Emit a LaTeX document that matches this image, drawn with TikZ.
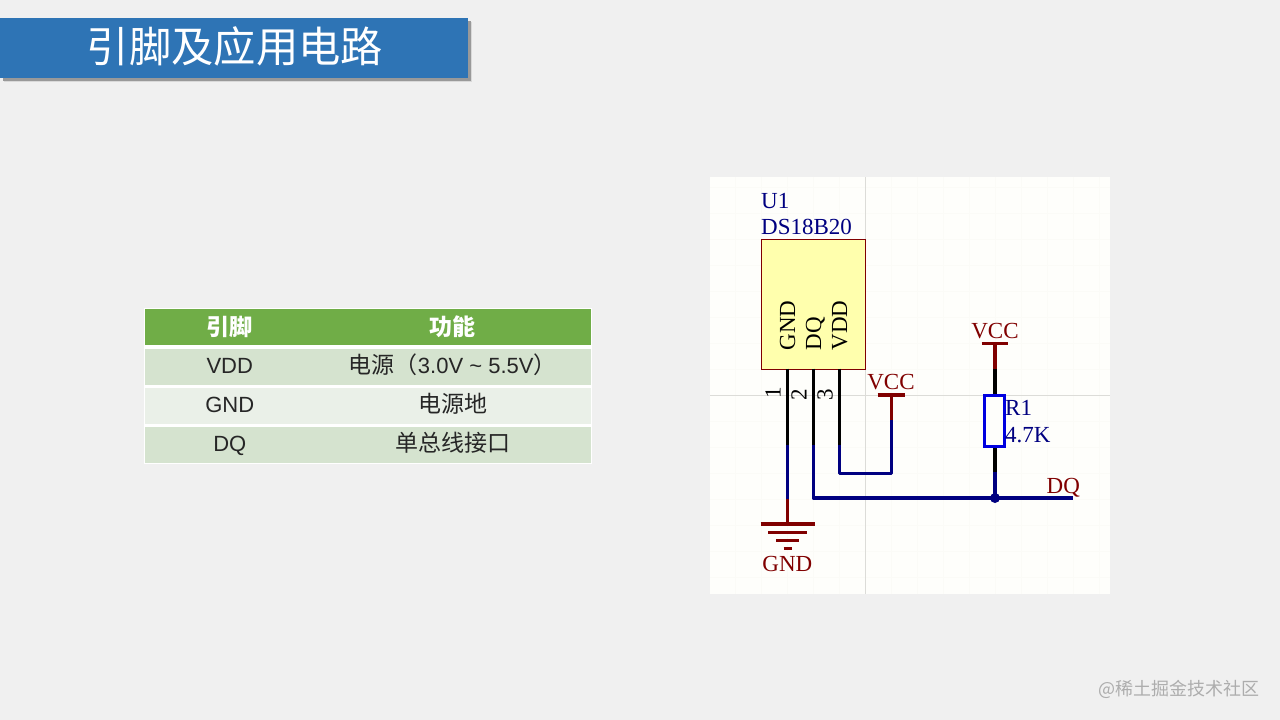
\documentclass[tikz,border=0pt]{standalone}
\usepackage{fontspec}
\setmainfont{Liberation Serif}
\newfontfamily\cjk{Noto Sans CJK SC}
\newfontfamily\lat{Liberation Sans}
\definecolor{bg}{HTML}{F0F0F0}
\definecolor{sheet}{HTML}{FEFEFB}
\definecolor{gridc}{HTML}{FBFBF7}
\definecolor{cross}{HTML}{DCDCD8}
\definecolor{titleblue}{HTML}{2E74B5}
\definecolor{headgreen}{HTML}{70AD47}
\definecolor{rowa}{HTML}{D5E3CF}
\definecolor{rowb}{HTML}{EAF0E8}
\definecolor{navyw}{HTML}{000080}
\definecolor{redw}{HTML}{800000}
\definecolor{bodyy}{HTML}{FFFFAD}
\definecolor{resblue}{HTML}{0000E0}
\definecolor{wm}{HTML}{ADADAD}
\tikzset{
  x=1pt,y=-1pt,
  sch/.style={inner sep=0pt,font=\fontsize{23}{23}\selectfont},
  navytxt/.style={sch,text=navyw,anchor=base west},
  redtxt/.style={sch,text=redw,anchor=base},
  pintxt/.style={sch,text=black,rotate=90},
  pinw/.style={draw=black,line width=3.4pt},
  netw/.style={draw=navyw,line width=3.4pt,line join=round},
  pwrw/.style={draw=redw,line width=3.4pt},
  cell/.style={inner sep=0pt,minimum height=36pt,text=black!85,text height=16pt,text depth=3pt,font=\lat\fontsize{22}{22}\selectfont},
  cola/.style={cell,minimum width=169.5pt},
  colb/.style={cell,minimum width=275.5pt},
  head/.style={fill=headgreen,text=white,text height=20pt,text depth=3pt,font=\cjk\bfseries\fontsize{23}{23}\selectfont},
  cjkcell/.style={font=\cjk\fontsize{23}{23}\selectfont},
}
\begin{document}
\begin{tikzpicture}
\useasboundingbox (0,0) rectangle (1280,720);
\fill[bg] (0,0) rectangle (1280,720);
% title banner
\fill[black!15] (4,22) rectangle (472,82);
\fill[black!40] (3,21) rectangle (470.5,80.5);
\node[fill=titleblue,inner sep=0pt,minimum width=468pt,minimum height=60pt,anchor=north west] (title) at (0,18) {};
\node[text=white,font=\cjk\fontsize{42.3}{42.3}\selectfont,inner sep=0pt] (titletext) at (235,46) {引脚及应用电路};
% table
\fill[white] (143.5,308) rectangle (591.5,464);
\node[cola,head] (h1) at (229.75,327) {引脚};
\node[colb,head] (h2) at (452.75,327) {功能};
\node[cola,fill=rowa] (a1) at (229.75,367) {VDD};
\node[colb,fill=rowa] (b1) at (452.75,367) {{\cjk\fontsize{23}{23}\selectfont 电源（}3.0V \textasciitilde{} 5.5V{\cjk\fontsize{23}{23}\selectfont ）}\hspace{5.5pt}};
\node[cola,fill=rowb] (a2) at (229.75,405.5) {GND};
\node[colb,fill=rowb,cjkcell] (b2) at (452.75,405.5) {电源地};
\node[cola,fill=rowa] (a3) at (229.75,444.5) {DQ};
\node[colb,fill=rowa,cjkcell] (b3) at (452.75,444.5) {单总线接口};
% schematic sheet
\fill[sheet] (710,177) rectangle (1110,594);
\begin{scope}
\clip (710,177) rectangle (1110,594);
\foreach \k in {-3,-2,...,12} \draw[gridc,line width=1pt] ({787.5+26*\k},177) -- ({787.5+26*\k},594);
\foreach \k in {-8,-7,...,7} \draw[gridc,line width=1pt] (710,{395+26*\k}) -- (1110,{395+26*\k});
\end{scope}
\draw[cross,line width=1pt] (865.5,177) -- (865.5,594);
\draw[cross,line width=1pt] (710,395) -- (1110,395);
% part body
\node[draw=redw,fill=bodyy,line width=1pt,inner sep=0pt,minimum width=104pt,minimum height=130pt,anchor=north west] (u1) at (761,239) {};
\node[navytxt] (ref) at (761,208) {U1};
\node[navytxt] (val) at (761,234) {DS18B20};
\node[pintxt,anchor=base west] (pg) at (795,350.5) {GND};
\node[pintxt,anchor=base west] (pq) at (821,350.5) {DQ};
\node[pintxt,anchor=base west] (pv) at (847,350.5) {VDD};
\node[pintxt,anchor=base] (n1) at (780.5,392.5) {1};
\node[pintxt,anchor=base] (n2) at (806.5,394.5) {2};
\node[pintxt,anchor=base] (n3) at (832.5,394.5) {3};
% points
\coordinate (p1t) at (787.3,368.5); \coordinate (p1m) at (787.3,445); \coordinate (p1b) at (787.3,499);
\coordinate (p2t) at (813.3,368.5); \coordinate (p2m) at (813.3,445); \coordinate (p2c) at (813.3,498);
\coordinate (p3t) at (839.3,368.5); \coordinate (p3m) at (839.3,445); \coordinate (p3c) at (839.3,473.3);
\coordinate (v1c) at (891.5,473.3); \coordinate (v1m) at (891.5,420);
\coordinate (dqend) at (1073,498);
% GND symbol
\coordinate (g1) at (787.3,524);
\draw[pinw] (p1t) -- (p1m);
\draw[netw] (p1m) -- (p1b);
\draw[pwrw] (p1b) -- (g1);
\draw[pwrw] (760.7,524) -- (814.7,524);
\draw[pwrw] (768,532.3) -- (806.7,532.3);
\draw[pwrw] (776,540.3) -- (799,540.3);
\draw[pwrw] (783.5,548.3) -- (791.5,548.3);
\node[redtxt] (gndt) at (787.3,571) {GND};
% pin 2 and DQ net
\draw[pinw] (p2t) -- (p2m);
\draw[netw] (p2m) -- (p2c) -- (dqend);
\node[navytxt,text=redw] (dqt) at (1046.5,493) {DQ};
% pin 3 and VCC
\draw[pinw] (p3t) -- (p3m);
\draw[netw] (p3m) -- (p3c) -- (v1c) -- (v1m);
\coordinate (v1t) at (891.5,395);
\draw[pwrw] (v1m) -- (v1t);
\draw[pwrw] (877.7,395) -- (905,395);
\node[redtxt] (vcc1) at (891,389.5) {VCC};
% resistor branch
\coordinate (v2t) at (995,343.3); \coordinate (v2m) at (995,369);
\coordinate (r1b) at (995,472); \coordinate (jn) at (995,498);
\draw[pwrw] (v2t) -- (v2m);
\draw[pwrw] (981.7,343.3) -- (1008.3,343.3);
\node[redtxt] (vcc2) at (995,338) {VCC};
\node[draw=resblue,line width=3.4pt,fill=sheet,inner sep=0pt,minimum width=20pt,minimum height=51pt] (r1) at (994.5,420.8) {};
\draw[pinw] (v2m) -- (v2m |- r1.north);
\draw[pinw] (v2m |- r1.south) -- (r1b);
\draw[netw] (r1b) -- (jn);
\fill[navyw] (jn) circle (5pt);
\node[navytxt] (rref) at (1005,415.5) {R1};
\node[navytxt] (rval) at (1005,442) {4.7K};
% watermark
\node[text=wm,inner sep=0pt,anchor=east,font=\cjk\fontsize{18}{18}\selectfont] (mark) at (1260,689) {@稀土掘金技术社区};
\end{tikzpicture}
\end{document}
